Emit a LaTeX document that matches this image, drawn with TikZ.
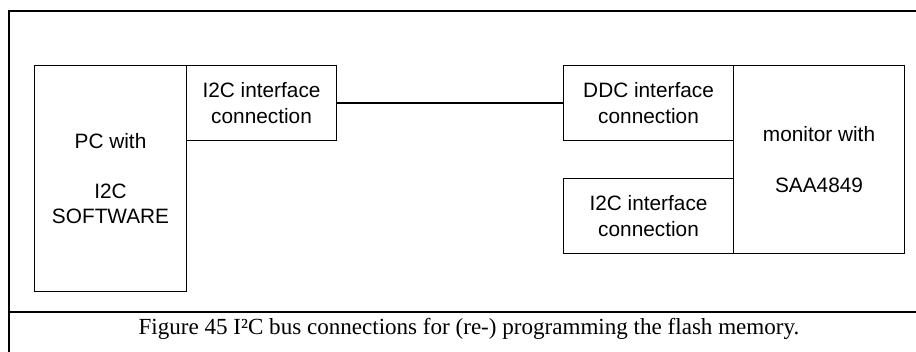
\documentclass[tikz,border=0pt]{standalone}
\usepackage{fontspec}
\setmainfont{Liberation Serif}
\newfontfamily\boxfont{Liberation Sans}
\begin{document}
\begin{tikzpicture}[x=0.75pt,y=-0.75pt,
  blk/.style={draw, line width=0.8pt, anchor=north west, inner sep=0pt,
    align=center, font=\boxfont\fontsize{15.6pt}{18.9pt}\selectfont},
  frame/.style={line width=1.5pt},
  bus/.style={line width=1.8pt}]
\useasboundingbox (0,0) rectangle (916,352);
% outer frame
\draw[frame] (9,352) -- (9,11) -- (916,11);
\draw[frame] (9,312) -- (916,312);
% boxes
\node[blk, minimum width=152*0.75pt, minimum height=226*0.75pt] (pc) at (34,65)
  {PC with\\\mbox{}\\I2C\\SOFTWARE};
\node[blk, minimum width=150*0.75pt, minimum height=75*0.75pt] (i2cl) at (186,65)
  {I2C interface\\connection};
\node[blk, minimum width=170*0.75pt, minimum height=75*0.75pt] (ddc) at (563,65)
  {DDC interface\\connection};
\node[blk, minimum width=170*0.75pt, minimum height=75*0.75pt] (i2cr) at (563,178)
  {I2C interface\\connection};
\node[blk, minimum width=171*0.75pt, minimum height=188*0.75pt] (mon) at (733,65)
  {monitor with\\\mbox{}\\SAA4849};
% bus line
\draw[bus] (i2cl.east) -- (ddc.west);
% caption
\node[anchor=base, inner sep=0pt, font=\fontsize{17.3pt}{20pt}\selectfont] (cap) at (469,334)
  {Figure 45 I²C bus connections for (re-) programming the flash memory.};
\end{tikzpicture}
\end{document}
